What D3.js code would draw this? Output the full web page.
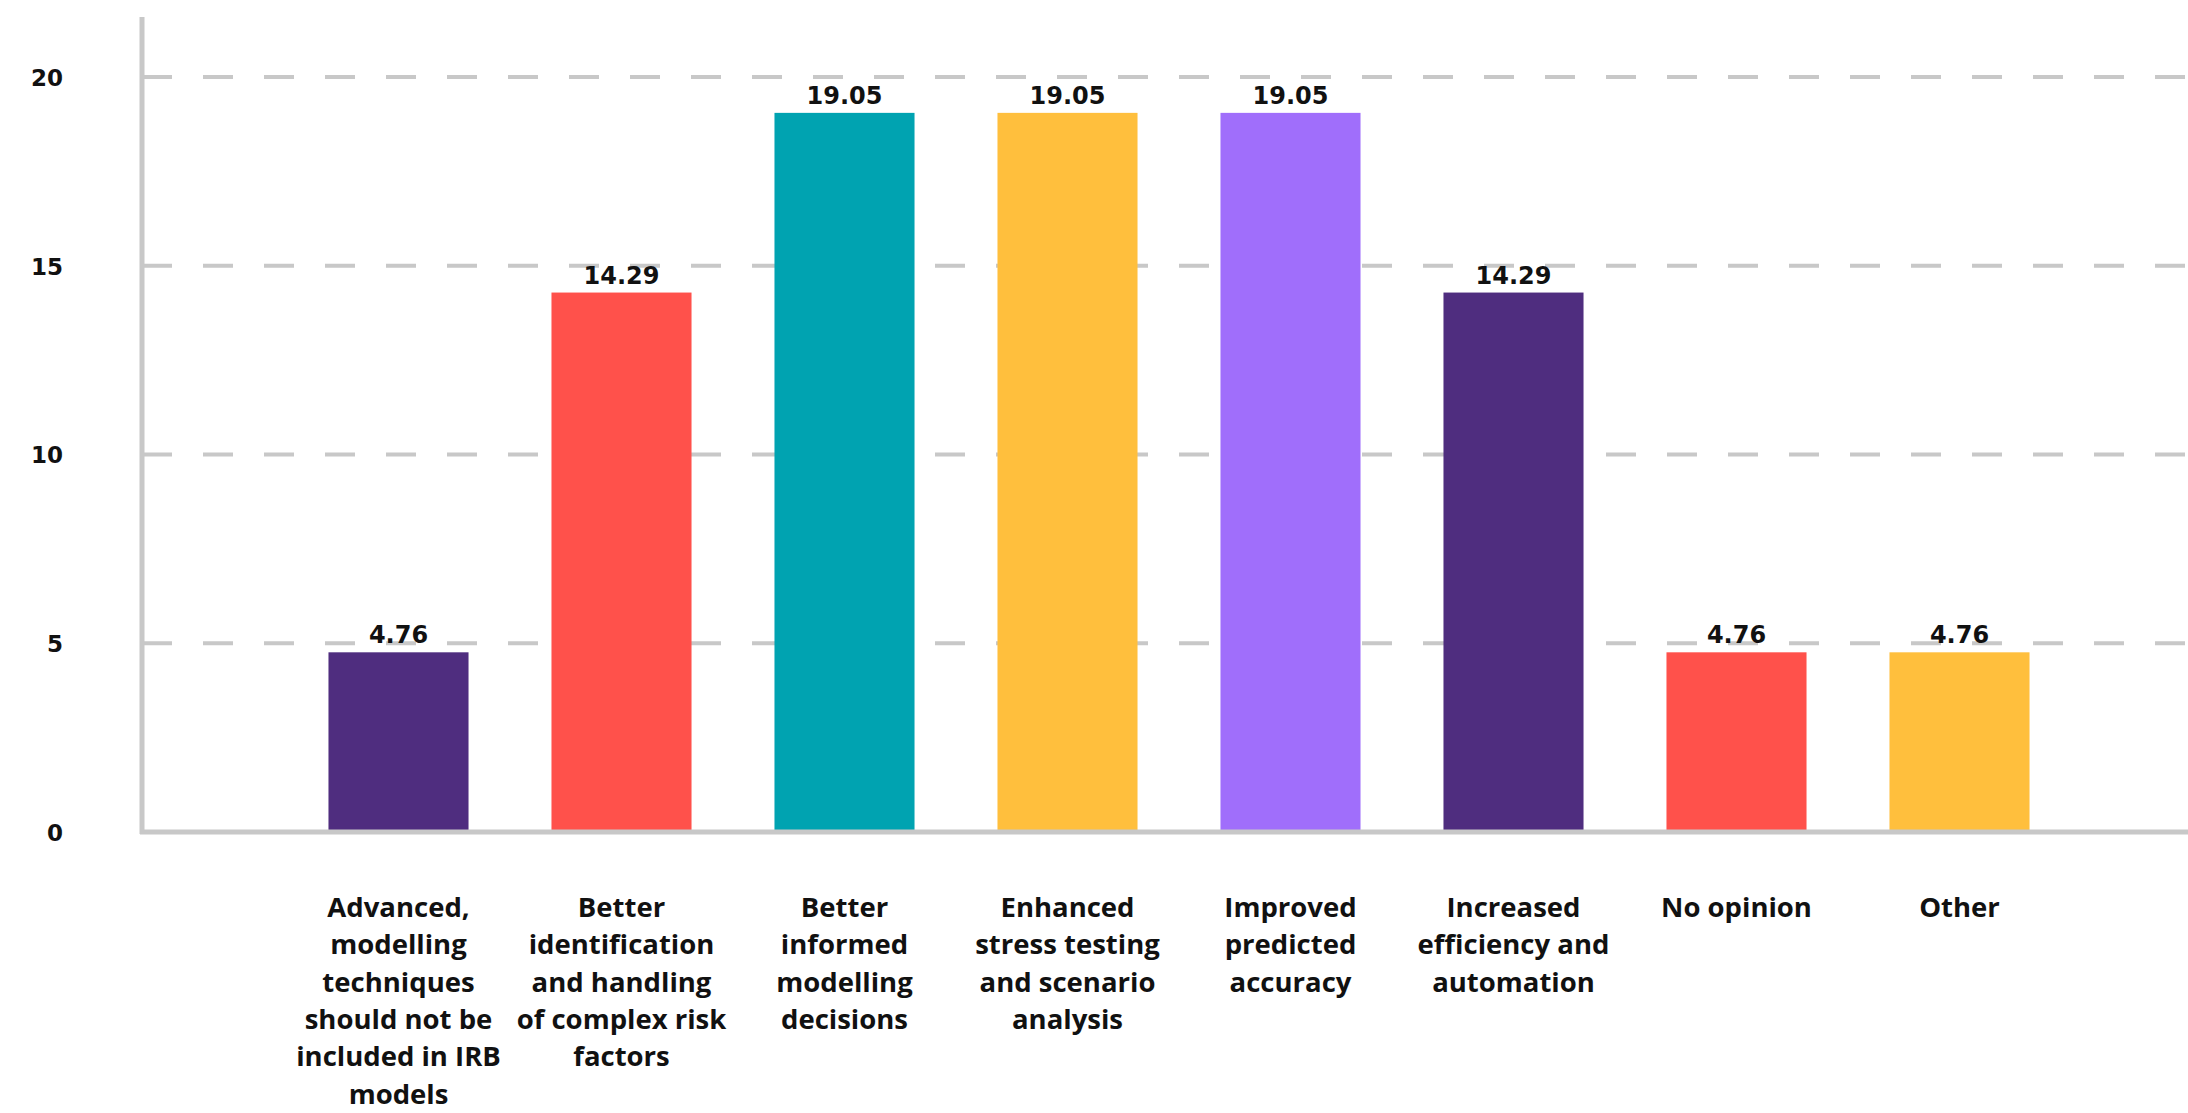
<!DOCTYPE html>
<html>
<head>
<meta charset="utf-8">
<script src="https://cdn.jsdelivr.net/npm/d3@7"></script>
<style>
  body { margin: 0; background: #fff; }
  svg { display: block; }
</style>
</head>
<body>
<div id="chart"></div>
<script>
// categories, values and colours
const categories = [
    "Advanced, modelling techniques should not be included in IRB models",
    "Better identification and handling of complex risk factors",
    "Better informed modelling decisions",
    "Enhanced stress testing and scenario analysis",
    "Improved predicted accuracy",
    "Increased efficiency and automation",
    "No opinion",
    "Other"
];
// how each label wraps in the original
const labelLines = [
    ["Advanced,", "modelling", "techniques", "should not be", "included in IRB", "models"],
    ["Better", "identification", "and handling", "of complex risk", "factors"],
    ["Better", "informed", "modelling", "decisions"],
    ["Enhanced", "stress testing", "and scenario", "analysis"],
    ["Improved", "predicted", "accuracy"],
    ["Increased", "efficiency and", "automation"],
    ["No opinion"],
    ["Other"]
];
const values = [4.76, 14.29, 19.05, 19.05, 19.05, 14.29, 4.76, 4.76];
const barColours = ["#4f2d7f", "#ff514b", "#00a3b1", "#ffbf3d", "#a06efb", "#4f2d7f", "#ff514b", "#ffbf3d"];
const yTicks = [0, 5, 10, 15, 20];

const width = 2188, height = 1113;
const axisX = 142, zeroY = 832, axisTop = 17;

const svg = d3.select("#chart")
    .append("svg")
    .attr("width", width)
    .attr("height", height);

// scales
const x = d3.scaleBand()
    .domain(categories)
    .range([287, 2071])
    .paddingInner(0.372)
    .paddingOuter(0.186);

const y = d3.scaleLinear()
    .domain([0, 20])
    .range([zeroY, 77]);

// dashed gridlines
svg.append("g")
    .selectAll("line")
    .data(yTicks.filter(d => d > 0))
    .join("line")
    .attr("x1", axisX)
    .attr("x2", width)
    .attr("y1", d => y(d))
    .attr("y2", d => y(d))
    .attr("stroke", "#c8c8c8")
    .attr("stroke-width", 4)
    .attr("stroke-dasharray", "30,31");

// y axis tick labels
const yAxis = d3.axisLeft(y).tickValues(yTicks).tickSize(0).tickPadding(0);
const yg = svg.append("g")
    .attr("transform", "translate(63,0)")
    .call(yAxis);
yg.select(".domain").remove();
yg.selectAll("text")
    .attr("dy", "0.36em")
    .style("font-family", "'DejaVu Sans', Verdana, sans-serif")
    .style("font-weight", "bold")
    .style("font-size", "23px")
    .style("fill", "#111");

// bars
svg.append("g")
    .selectAll("rect")
    .data(values)
    .join("rect")
    .attr("x", (d, i) => x(categories[i]))
    .attr("y", d => y(d))
    .attr("width", x.bandwidth())
    .attr("height", d => zeroY - y(d))
    .attr("fill", (d, i) => barColours[i]);

// axis lines
svg.append("line")
    .attr("x1", axisX).attr("x2", axisX)
    .attr("y1", axisTop).attr("y2", zeroY + 2)
    .attr("stroke", "#c8c8c8")
    .attr("stroke-width", 5);

svg.append("line")
    .attr("x1", axisX - 2).attr("x2", width)
    .attr("y1", zeroY).attr("y2", zeroY)
    .attr("stroke", "#c8c8c8")
    .attr("stroke-width", 5);

// value labels
svg.append("g")
    .selectAll("text")
    .data(values)
    .join("text")
    .attr("x", (d, i) => x(categories[i]) + x.bandwidth() / 2)
    .attr("y", d => y(d) - 9)
    .attr("text-anchor", "middle")
    .style("font-family", "'DejaVu Sans', Verdana, sans-serif")
    .style("font-weight", "bold")
    .style("font-size", "24px")
    .style("fill", "#111")
    .text(d => d.toFixed(2));

// category labels, wrapped like the original
const cat = svg.append("g")
    .selectAll("text")
    .data(labelLines)
    .join("text")
    .attr("x", (d, i) => x(categories[i]) + x.bandwidth() / 2)
    .attr("y", 917)
    .attr("text-anchor", "middle")
    .style("font-family", "'Open Sans', sans-serif")
    .style("font-weight", "bold")
    .style("font-size", "27.5px")
    .style("fill", "#111");

cat.selectAll("tspan")
    .data(d => d)
    .join("tspan")
    .attr("x", function() { return d3.select(this.parentNode).attr("x"); })
    .attr("dy", (d, i) => i === 0 ? 0 : 37.3)
    .text(d => d);
</script>
</body>
</html>
